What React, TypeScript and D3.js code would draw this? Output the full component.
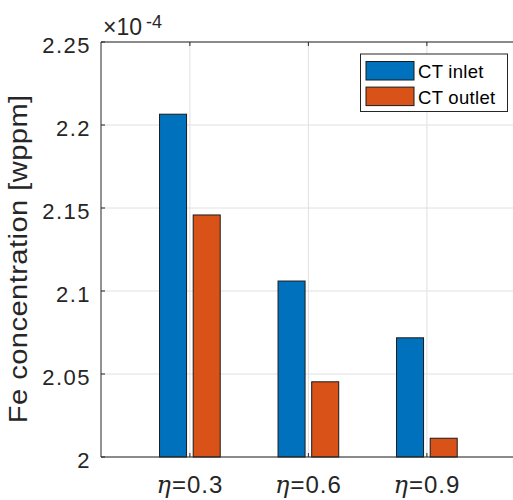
import React from "react";
import * as d3 from "d3";

const categories = ["0.3", "0.6", "0.9"];
const seriesNames = ["CT inlet", "CT outlet"];
const inletValues = [2.2065, 2.106, 2.0718];
const outletValues = [2.1458, 2.0453, 2.0113];
const yTicks = [2, 2.05, 2.1, 2.15, 2.2, 2.25];
const yTickLabels = ["2", "2.05", "2.1", "2.15", "2.2", "2.25"];
const colors = ["#0072BD", "#D95319"];

const W = 513;
const H = 500;
const axLeft = 101;
const axTop = 42;
const axBottom = 457;
const unit = 118.5;

export default function App() {
  const x = d3.scaleLinear().domain([0.25, 3.75]).range([axLeft, axLeft + 3.5 * unit]);
  const y = d3.scaleLinear().domain([2, 2.25]).range([axBottom, axTop]);
  const barW = 0.228;
  const offset = 0.142;
  const series = [inletValues, outletValues];
  const axisColor = "#262626";
  const font = "'Liberation Sans', Arial, Helvetica, sans-serif";
  const axRight = x(3.75);

  return (
    <svg
      width={W}
      height={H}
      style={{ position: "absolute", left: 0, top: 0, background: "#fff" }}
      fontFamily={font}
    >
      <rect x={0} y={0} width={W} height={H} fill="#fff" />
      {/* grid */}
      {yTicks.map((t) => (
        <line key={"gy" + t} x1={axLeft} x2={axRight} y1={y(t)} y2={y(t)} stroke="#e0e0e0" strokeWidth={1} />
      ))}
      {categories.map((c, i) => (
        <line key={"gx" + c} x1={x(i + 1)} x2={x(i + 1)} y1={axTop} y2={axBottom} stroke="#e0e0e0" strokeWidth={1} />
      ))}
      {/* bars */}
      {series.map((vals, s) =>
        vals.map((v, i) => {
          const cx = i + 1 + (s === 0 ? -offset : offset);
          const x0 = x(cx - barW / 2);
          const x1 = x(cx + barW / 2);
          return (
            <rect
              key={`b${s}-${i}`}
              x={x0}
              y={y(v)}
              width={x1 - x0}
              height={y(2) - y(v)}
              fill={colors[s]}
              stroke="#1a1a1a"
              strokeWidth={1}
            />
          );
        })
      )}
      {/* axes lines */}
      <line x1={axLeft} x2={axRight} y1={axTop} y2={axTop} stroke={axisColor} strokeWidth={1} />
      <line x1={axLeft} x2={axRight} y1={axBottom} y2={axBottom} stroke={axisColor} strokeWidth={1} />
      <line x1={axLeft} x2={axLeft} y1={axTop} y2={axBottom} stroke={axisColor} strokeWidth={1} />
      {/* y ticks */}
      {yTicks.map((t, i) => (
        <g key={"yt" + t}>
          <line x1={axLeft} x2={axLeft + 4} y1={y(t)} y2={y(t)} stroke={axisColor} />
          <text
            x={91}
            y={y(t) + 11}
            textAnchor="end"
            fontSize={22}
            letterSpacing={1.5}
            fill={axisColor}
          >
            {yTickLabels[i]}
          </text>
        </g>
      ))}
      {/* x ticks */}
      {categories.map((c, i) => (
        <g key={"xt" + c}>
          <line x1={x(i + 1)} x2={x(i + 1)} y1={axBottom} y2={axBottom - 4} stroke={axisColor} />
          <line x1={x(i + 1)} x2={x(i + 1)} y1={axTop} y2={axTop + 4} stroke={axisColor} />
          <text x={x(i + 1)} y={493} textAnchor="middle" fontSize={24} letterSpacing={1} fill={axisColor}>
            <tspan fontFamily="'DejaVu Serif', 'Liberation Serif', serif" fontStyle="italic">η</tspan>
            <tspan>={c}</tspan>
          </text>
        </g>
      ))}
      {/* exponent */}
      <text x={103} y={35} fontSize={23} fill={axisColor}>×10</text>
      <text x={146} y={28} fontSize={18} fill={axisColor}>-4</text>
      {/* y label */}
      <text
        transform={`translate(27, 259) rotate(-90) scale(1.14, 1)`}
        textAnchor="middle"
        fontSize={25.5}
        textLength={288}
        lengthAdjust="spacing"
        fill={axisColor}
      >
        Fe concentration [wppm]
      </text>
      {/* legend */}
      <g>
        <rect x={360.5} y={54} width={147} height={57.5} fill="#fff" stroke={axisColor} strokeWidth={1} />
        {seriesNames.map((n, i) => (
          <g key={n}>
            <rect
              x={366}
              y={61.5 + i * 25.6}
              width={48}
              height={18.5}
              fill={colors[i]}
              stroke="#1a1a1a"
              strokeWidth={1}
            />
            <text x={418} y={78 + i * 25.6} fontSize={18.5} letterSpacing={0.3} fill="#000">
              {n}
            </text>
          </g>
        ))}
      </g>
    </svg>
  );
}
